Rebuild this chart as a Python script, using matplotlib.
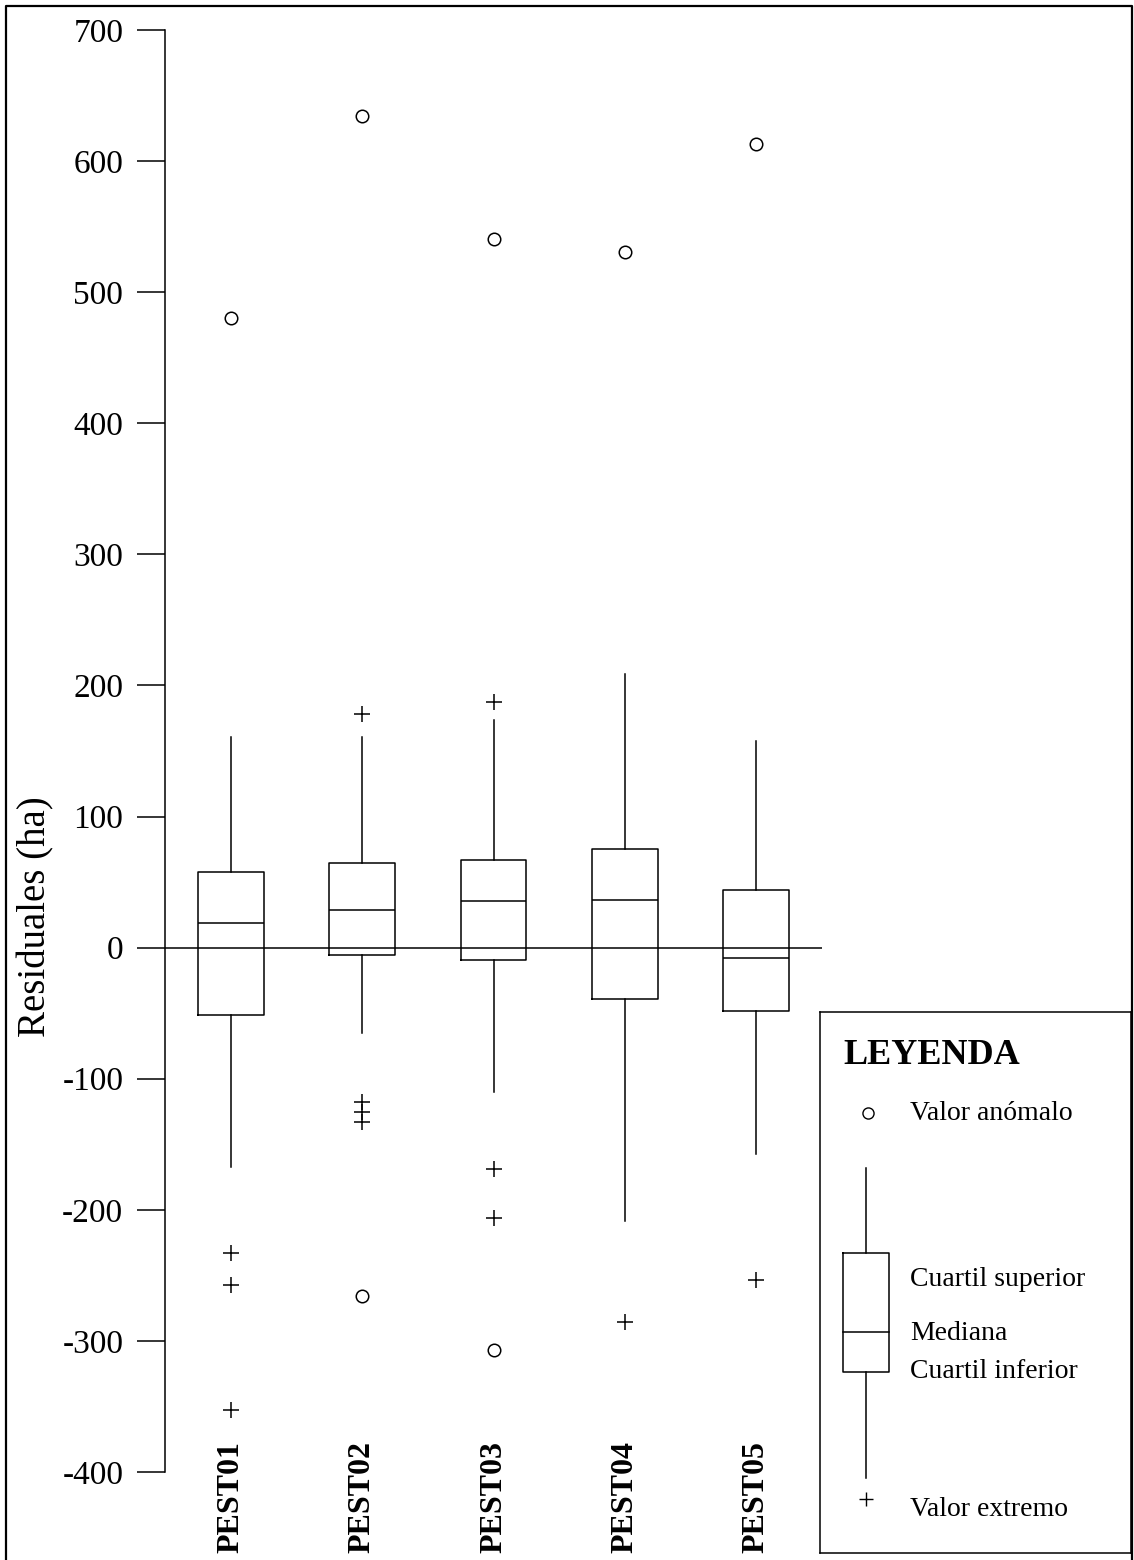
import matplotlib
matplotlib.use("Agg")
import matplotlib.pyplot as plt
from matplotlib.lines import Line2D

plt.rcParams['font.family'] = ['Liberation Serif', 'DejaVu Serif']

# residual summaries per model (ha)
labels = ["PEST01", "PEST02", "PEST03", "PEST04", "PEST05"]
whis_hi = [161, 161, 174, 209, 158]
q3 = [58, 64.6, 67.2, 75.3, 44]
med = [18.6, 29, 35.9, 36.1, -8.1]
q1 = [-51.4, -5.3, -9.7, -39.4, -48.3]
whis_lo = [-167, -65.4, -110.4, -208.6, -157.8]

# outliers (circles) and extremes (pluses)
anomalo = [[480], [634.6, -265.9], [540.2, -306.9], [531], [613]]
extremo = [[-232.6, -257.3, -352.9], [177.9, -118, -125.4, -132.8],
           [187.3, -169, -205.9], [-285.3], [-253.4]]

yticks = [700, 600, 500, 400, 300, 200, 100, 0, -100, -200, -300, -400]

W, H = 1134, 1560
fig = plt.figure(figsize=(W / 100, H / 100), dpi=100)
ax = fig.add_axes([165 / W, 1 - 1472 / H, 657 / W, 1442 / H])

pos = list(range(1, len(labels) + 1))
stats = []
for i in range(len(labels)):
    stats.append(dict(whislo=whis_lo[i], q1=q1[i], med=med[i], q3=q3[i],
                      whishi=whis_hi[i], fliers=[]))
line = dict(color='black', linewidth=1.1)
ax.bxp(stats, positions=pos, widths=0.5, showfliers=False, showcaps=False,
       boxprops=line, whiskerprops=line, medianprops=line)

for p, vals in zip(pos, anomalo):
    ax.plot([p] * len(vals), vals, 'o', mfc='none', mec='black', ms=9, mew=1.1)
for p, vals in zip(pos, extremo):
    ax.plot([p] * len(vals), vals, '+', color='black', ms=12, mew=1.1)

ax.axhline(0, color='black', linewidth=1.1, zorder=0)

ax.set_xlim(0.5, 5.5)
ax.set_ylim(-400, 700)
ax.set_yticks(yticks)
ax.set_yticklabels([str(t) for t in yticks], fontsize=24)
ax.tick_params(axis='y', length=20, width=1.1, pad=10)
ax.set_xticks(pos)
ax.set_xticklabels(labels, rotation=90, fontsize=23, fontweight='bold')
ax.tick_params(axis='x', length=0, pad=-22)
for s in ['top', 'right', 'bottom']:
    ax.spines[s].set_visible(False)
ax.spines['left'].set_linewidth(1.1)
ax.set_ylabel("Residuales (ha)", fontsize=28)
ax.yaxis.set_label_coords(-0.168, 0.385)

# legend panel (drawn in its own pixel-like coordinates)
lg = fig.add_axes([820 / W, 1 - 1553 / H, 311 / W, 541 / H])
lg.set_xlim(820, 1131)
lg.set_ylim(1553, 1012)
lg.set_xticks([])
lg.set_yticks([])
for s in lg.spines.values():
    s.set_linewidth(1.1)
lg.text(843, 1055, "LEYENDA", fontsize=26, fontweight='bold', va='center')
lg.plot([868], [1113], 'o', mfc='none', mec='black', ms=8, mew=1.0)
lg.text(910, 1113, "Valor anómalo", fontsize=20, va='center')
lg.plot([866, 866], [1168, 1253], color='black', lw=1.1)
lg.plot([866, 866], [1372, 1478], color='black', lw=1.1)
lg.plot([843, 889, 889, 843, 843], [1253, 1253, 1372, 1372, 1253], color='black', lw=1.1)
lg.plot([843, 889], [1332, 1332], color='black', lw=1.1)
lg.plot([866], [1499], '+', color='black', ms=10, mew=1.0)
lg.text(910, 1279, "Cuartil superior", fontsize=20, va='center')
lg.text(910, 1333, "Mediana", fontsize=20, va='center')
lg.text(910, 1372, "Cuartil inferior", fontsize=20, va='center')
lg.text(910, 1510, "Valor extremo", fontsize=20, va='center')

# outer frame
fx = [6 / W, 6 / W, 1132 / W, 1132 / W]
fy = [0, 1 - 6 / H, 1 - 6 / H, 0]
fig.add_artist(Line2D(fx, fy, color='black', linewidth=1.6, transform=fig.transFigure))

fig.savefig("out.png", dpi=100, facecolor='white')
